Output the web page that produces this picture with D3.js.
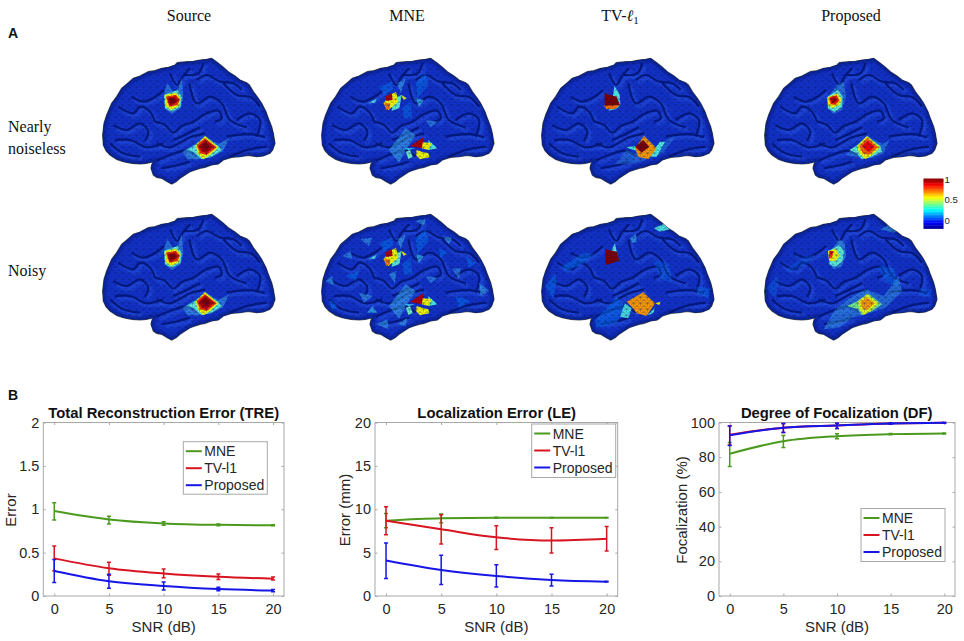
<!DOCTYPE html>
<html>
<head>
<meta charset="utf-8">
<script src="https://cdn.jsdelivr.net/npm/d3@7"></script>
<style>
  html, body { margin: 0; background: #fff; }
  svg { display: block; }
  text { font-family: "Liberation Sans", Arial, sans-serif; fill: #262626; }
  .serif { font-family: "Liberation Serif", "Times New Roman", serif; fill: #111; }
</style>
</head>
<body>
<svg id="fig" width="964" height="641"></svg>
<script>
// ---- line chart values ----
const snr = [0, 5, 10, 15, 20];
const seriesNames = ['MNE', 'TV-l1', 'Proposed'];
const seriesColors = ['#4b9a1e', '#d81420', '#1616e6'];

const treTicks = [0, 0.5, 1, 1.5, 2];
const treMne = [0.98, 0.883, 0.837, 0.82, 0.815];
const treMneErr = [[0.875, 1.075], [0.83, 0.92], [0.815, 0.855], [0.81, 0.83], [0.81, 0.82]];
const treTv = [0.434, 0.32, 0.26, 0.222, 0.2];
const treTvErr = [[0.29, 0.575], [0.24, 0.39], [0.21, 0.31], [0.19, 0.255], [0.185, 0.22]];
const treProp = [0.288, 0.17, 0.115, 0.08, 0.062];
const trePropErr = [[0.155, 0.42], [0.09, 0.25], [0.07, 0.16], [0.06, 0.1], [0.05, 0.075]];

const leTicks = [0, 5, 10, 15, 20];
const leMne = [8.68, 8.95, 9.02, 9.02, 9.02];
const leMneErr = [[7.87, 9.5], [8.45, 9.45], [8.97, 9.07], [8.98, 9.06], [9, 9.04]];
const leTv = [8.68, 7.7, 6.76, 6.4, 6.6];
const leTvErr = [[7.06, 10.3], [6.0, 9.37], [5.37, 8.1], [4.95, 7.87], [5.2, 8.0]];
const leProp = [4.1, 3.0, 2.3, 1.84, 1.65];
const lePropErr = [[2.03, 6.1], [1.34, 4.7], [1.04, 3.6], [1.15, 2.5], [1.6, 1.7]];

const dfTicks = [0, 20, 40, 60, 80, 100];
const dfMne = [82, 89.2, 92.1, 93.3, 93.7];
const dfMneErr = [[74.7, 88.5], [85.6, 92.5], [90.6, 93.5], [92.9, 93.7], [93.4, 94]];
const dfTv = [93, 97, 98.3, 99.4, 99.8];
const dfTvErr = [[87, 98], [94.3, 99.4], [96.6, 99.6], [99, 99.8], [99.6, 100]];
const dfProp = [92.7, 97, 98.3, 99.4, 99.8];
const dfPropErr = [[86.8, 98], [94.3, 99.4], [96.6, 99.6], [99, 99.8], [99.6, 100]];

// ---- brain surface, traced in a 660x510 frame ----
const brainOutline = [[38,285],[42,250],[50,225],[65,190],[80,170],[95,145],[115,128],[130,115],[150,108],[175,95],[195,92],[215,85],[235,82],[255,75],[262,68],[290,65],[310,64],[330,60],[350,58],[365,55],[375,62],[385,70],[400,82],[415,95],[435,108],[450,120],[470,128],[478,135],[490,155],[505,175],[515,190],[528,215],[535,235],[545,260],[550,280],[555,310],[548,330],[540,340],[520,348],[500,350],[475,346],[450,350],[425,352],[400,360],[385,372],[365,375],[345,382],[330,385],[315,390],[300,395],[285,405],[270,415],[258,425],[245,432],[232,425],[215,415],[200,412],[190,405],[183,385],[186,372],[190,365],[170,370],[150,372],[125,370],[100,365],[80,358],[60,345],[48,332],[40,315]];
const sulci = [
  [[195,245],[225,255],[250,278],[275,258],[310,245],[345,222],[385,212],[395,235],[375,245]],
  [[200,310],[240,322],[275,305],[300,292],[345,280]],
  [[320,120],[350,105],[390,125],[430,130],[455,150]],
  [[298,130],[320,190],[360,170],[395,190],[420,240],[470,262]],
  [[125,170],[160,185],[200,168],[222,150]],
  [[70,255],[110,270],[150,250],[175,275],[165,302]],
  [[75,300],[120,300],[170,322],[220,310]],
  [[200,362],[240,345],[290,332],[320,350]],
  [[420,350],[470,330],[530,320]],
  [[440,240],[480,220],[510,240],[500,290]],
  [[400,130],[440,165],[482,172],[510,200]],
  [[240,100],[262,135],[278,110],[300,85]],
  [[85,200],[130,220],[150,200],[180,215],[195,245]],
  [[330,262],[290,282],[250,300]],
  [[410,290],[480,282],[525,292]],
  [[60,310],[100,340],[150,350]],
  [[340,70],[325,100],[285,105]],
  [[215,385],[265,375],[300,365]]
];

// activation patches: v is the colormap value, o the opacity
const srcTop = [
  { v: 0.3, o: 0.45, pts: [[232,128],[252,160],[262,152],[275,114],[280,170],[272,205],[245,222],[224,205],[222,160]] },
  { v: 0.42, o: 1, pts: [[222,165],[262,150],[275,170],[272,200],[245,215],[225,205]] },
  { v: 0.62, o: 1, pts: [[224,165],[258,158],[272,175],[268,198],[243,210],[226,198]] },
  { v: 0.83, o: 1, pts: [[228,170],[258,164],[270,180],[262,195],[238,200]] },
  { v: 0.95, o: 1, pts: [[232,173],[256,170],[265,182],[252,193],[238,195]] },
  { v: 1, o: 1, pts: [[238,176],[253,174],[258,182],[249,190],[240,190]] }
];
const srcBottom = [
  { v: 0.3, o: 0.5, pts: [[278,335],[320,308],[345,288],[385,312],[418,295],[398,335],[362,352],[330,358],[292,358]] },
  { v: 0.42, o: 1, pts: [[290,330],[320,312],[345,292],[385,318],[395,330],[365,350],[335,358],[310,335]] },
  { v: 0.62, o: 1, pts: [[318,315],[345,288],[385,322],[360,345],[340,358],[322,340]] },
  { v: 0.83, o: 1, pts: [[320,315],[345,295],[380,322],[350,345],[330,340]] },
  { v: 0.95, o: 1, pts: [[326,318],[345,300],[372,320],[350,338],[335,335]] },
  { v: 1, o: 1, pts: [[333,318],[347,306],[362,320],[348,332]] }
];
const propTop = [
  { v: 0.3, o: 0.4, pts: [[255,135],[275,125],[282,170],[270,210],[245,222],[226,205],[232,165]] },
  { v: 0.42, o: 1, pts: [[226,170],[258,150],[272,170],[270,200],[248,216],[228,205]] },
  { v: 0.62, o: 1, pts: [[226,172],[256,160],[268,178],[264,195],[240,205],[228,195]] },
  { v: 0.85, o: 1, pts: [[232,172],[254,166],[262,182],[250,194],[236,193]] },
  { v: 0.97, o: 1, pts: [[236,174],[250,172],[254,184],[240,190]] }
];
const propBottom = [
  { v: 0.3, o: 0.4, pts: [[282,345],[310,318],[345,288],[392,312],[412,300],[395,340],[360,355],[320,352]] },
  { v: 0.42, o: 1, pts: [[292,330],[318,315],[345,290],[385,318],[390,335],[355,352],[330,358],[312,338]] },
  { v: 0.62, o: 1, pts: [[315,318],[345,288],[385,322],[360,345],[340,358],[322,340]] },
  { v: 0.78, o: 1, pts: [[322,318],[346,294],[378,322],[350,345],[332,340]] },
  { v: 0.88, o: 1, pts: [[330,318],[347,302],[368,320],[350,336]] }
];
const propTopNoisy = [
  { v: 0.3, o: 0.5, pts: [[262,130],[278,140],[282,180],[268,212],[245,220],[230,200],[240,160]] },
  { v: 0.42, o: 1, pts: [[228,165],[262,148],[276,165],[272,195],[250,212],[232,205]] },
  { v: 0.62, o: 1, pts: [[228,165],[252,158],[262,180],[250,195],[232,195]] },
  { v: 0.82, o: 1, pts: [[232,165],[245,165],[240,185],[230,188]] },
  { v: 0.97, o: 1, pts: [[234,165],[244,168],[236,178]] }
];
const propBottomNoisy = [
  { v: 0.3, o: 0.4, pts: [[215,400],[250,340],[290,310],[340,280],[395,300],[440,240],[450,285],[400,335],[355,350],[300,365],[260,395]] },
  { v: 0.5, o: 0.9, pts: [[285,330],[318,315],[348,292],[390,325],[360,345],[330,358],[318,340]] },
  { v: 0.6, o: 1, pts: [[318,315],[345,295],[380,322],[355,345],[335,358],[322,340]] },
  { v: 0.72, o: 1, pts: [[325,318],[345,304],[368,322],[345,342],[332,338]] }
];
const tvTop = [
  { v: 0.4, o: 1, pts: [[256,138],[272,162],[274,195],[262,207],[238,212],[248,200]] },
  { v: 0.76, o: 1, pts: [[224,195],[272,195],[258,207],[232,208]] },
  { v: 1, o: 1, pts: [[226,160],[263,170],[273,195],[228,197]] }
];
const tvBottom = [
  { v: 0.3, o: 0.3, pts: [[258,372],[293,330],[328,345],[368,355],[413,300],[438,290],[403,340],[323,370]] },
  { v: 0.4, o: 1, pts: [[358,350],[393,305],[408,305],[383,350]] },
  { v: 0.4, o: 1, pts: [[290,322],[320,318],[330,335]] },
  { v: 0.72, o: 1, pts: [[318,325],[345,288],[383,325],[358,358],[328,350]] },
  { v: 1, o: 1, pts: [[318,320],[343,300],[361,320],[338,338]] }
];
const tvTopNoisy = [
  { v: 0.4, o: 1, pts: [[258,142],[268,192],[248,162]] },
  { v: 1, o: 1, pts: [[228,160],[263,167],[271,194],[231,207]] }
];
const tvBottomNoisy = [
  { v: 0.4, o: 0.9, pts: [[273,362],[288,322],[308,337],[298,367]] },
  { v: 0.72, o: 1, pts: [[293,317],[343,289],[378,322],[353,360],[323,352],[308,332]] },
  { v: 0.62, o: 1, pts: [[378,322],[395,317],[391,327]] },
  { v: 0.4, o: 1, pts: [[353,360],[378,335],[373,350]] }
];
const tvNoise = [
  { v: 0.4, o: 0.95, pts: [[375,97],[403,84],[433,97],[393,107]] },
  { v: 0.3, o: 0.6, pts: [[303,127],[321,114],[323,137],[311,142]] },
  { v: 0.25, o: 0.45, pts: [[98,212],[163,172],[193,172],[173,197],[108,227]] },
  { v: 0.25, o: 0.45, pts: [[48,272],[78,232],[83,257],[73,307]] },
  { v: 0.25, o: 0.45, pts: [[198,372],[263,302],[288,332],[263,382],[203,397]] },
  { v: 0.25, o: 0.4, pts: [[503,272],[543,277],[538,307],[503,292]] },
  { v: 0.25, o: 0.3, pts: [[370,190],[420,205],[430,260],[395,250]] }
];
const propNoise = [
  { v: 0.3, o: 0.5, pts: [[385,100],[420,82],[460,90],[425,110]] },
  { v: 0.25, o: 0.25, pts: [[100,220],[165,178],[190,178],[170,200],[110,232]] },
  { v: 0.25, o: 0.3, pts: [[45,275],[75,238],[80,258],[70,310]] },
  { v: 0.25, o: 0.25, pts: [[500,275],[540,280],[535,305],[500,295]] },
  { v: 0.25, o: 0.35, pts: [[380,210],[425,215],[440,270],[400,260]] }
];
const mneTop = [
  { v: 0.25, o: 0.5, pts: [[210,140],[250,125],[252,150],[225,165]] },
  { v: 0.3, o: 0.5, pts: [[265,130],[290,115],[275,160]] },
  { v: 0.4, o: 0.9, pts: [[178,190],[203,175],[198,188]] },
  { v: 0.42, o: 1, pts: [[253,175],[278,165],[271,205],[248,212]] },
  { v: 0.62, o: 1, pts: [[243,165],[261,155],[268,185],[238,210],[223,190]] },
  { v: 0.62, o: 1, pts: [[278,165],[293,175],[283,180]] },
  { v: 0.95, o: 1, pts: [[228,170],[248,160],[251,180],[231,183]] },
  { v: 0.76, o: 1, pts: [[225,190],[243,190],[243,205],[231,210]] }
];
const mneBottom = [
  { v: 0.3, o: 0.5, pts: [[240,330],[290,265],[320,285],[290,330],[270,370]] },
  { v: 0.4, o: 1, pts: [[358,300],[385,325],[358,330]] },
  { v: 0.45, o: 1, pts: [[291,335],[303,330],[311,350],[298,358]] },
  { v: 0.38, o: 1, pts: [[288,325],[318,325],[298,330]] },
  { v: 0.62, o: 1, pts: [[333,305],[368,310],[358,330],[338,325]] },
  { v: 0.62, o: 1, pts: [[323,330],[338,335],[358,340],[361,352],[333,358],[321,345]] },
  { v: 0.95, o: 1, pts: [[303,318],[345,290],[338,325]] }
];
const mneFaint = [
  { v: 0.25, o: 0.45, pts: [[320,125],[350,100],[358,135],[325,175]] },
  { v: 0.35, o: 0.6, pts: [[320,175],[345,180],[330,200]] },
  { v: 0.3, o: 0.5, pts: [[350,240],[385,245],[365,262]] },
  { v: 0.25, o: 0.45, pts: [[280,205],[305,185],[310,235],[285,235]] }
];
const mneNoise = [
  { v: 0.25, o: 0.55, pts: [[60,310],[85,330],[70,345]] },
  { v: 0.3, o: 0.5, pts: [[100,180],[125,165],[130,190]] },
  { v: 0.3, o: 0.5, pts: [[155,130],[190,125],[180,150]] },
  { v: 0.3, o: 0.55, pts: [[320,75],[350,68],[345,90]] },
  { v: 0.3, o: 0.5, pts: [[400,120],[430,125],[420,145]] },
  { v: 0.25, o: 0.5, pts: [[470,180],[500,200],[480,215]] },
  { v: 0.3, o: 0.55, pts: [[510,260],[540,285],[515,300]] },
  { v: 0.25, o: 0.5, pts: [[440,300],[485,315],[450,335]] },
  { v: 0.3, o: 0.5, pts: [[200,385],[235,370],[240,400]] },
  { v: 0.3, o: 0.5, pts: [[265,385],[295,365],[290,390]] },
  { v: 0.25, o: 0.5, pts: [[110,240],[150,225],[140,255]] },
  { v: 0.3, o: 0.5, pts: [[150,290],[190,300],[165,320]] },
  { v: 0.3, o: 0.55, pts: [[240,235],[262,225],[258,262]] },
  { v: 0.35, o: 0.6, pts: [[175,350],[190,330],[205,350]] },
  { v: 0.3, o: 0.5, pts: [[50,255],[70,240],[75,270]] },
  { v: 0.3, o: 0.45, pts: [[430,220],[455,215],[450,250]] },
  { v: 0.25, o: 0.5, pts: [[390,155],[415,170],[395,185]] }
];

const columnTitles = ['Source', 'MNE', 'TV-', 'Proposed'];
const columnCentres = [189, 407, 620, 851];
const colorbarTicks = [0, 0.5, 1];

// each brain: frame origin on the page plus the patches painted on it
const brainOriginsX = [90, 309, 529, 752];
const brainOriginsY = [40, 196];
const brainPatches = [
  [srcTop.concat(srcBottom), mneFaint.concat(mneTop, mneBottom), tvTop.concat(tvBottom), propTop.concat(propBottom)],
  [srcTop.concat(srcBottom), mneFaint.concat(mneNoise, mneTop, mneBottom), tvNoise.concat(tvTopNoisy, tvBottomNoisy), propNoise.concat(propTopNoisy, propBottomNoisy)]
];

const svg = d3.select('#fig');

// matlab jet
const jet = d3.scaleLinear()
  .domain([0, 0.125, 0.375, 0.625, 0.875, 1])
  .range(['#00008f', '#0000ff', '#00ffff', '#ffff00', '#ff0000', '#800000']);
// what the surface lighting does to the map: washed a little towards white at cyan
const shade = v => d3.interpolateRgb(jet(v), '#b8e0e8')(v > 0.28 && v < 0.5 ? 0.35 : 0);

const defs = svg.append('defs');
defs.append('filter').attr('id', 'blurS').append('feGaussianBlur').attr('stdDeviation', 0.7);
defs.append('filter').attr('id', 'blurM').append('feGaussianBlur').attr('stdDeviation', 1.4);
defs.append('filter').attr('id', 'blurT').append('feGaussianBlur').attr('stdDeviation', 0.35);

const mesh = defs.append('pattern').attr('id', 'mesh')
  .attr('patternUnits', 'userSpaceOnUse').attr('width', 7).attr('height', 6);
mesh.append('path').attr('d', 'M0,0L7,0M0,3L7,3M0,0L3.5,3L7,0M0,6L3.5,3L7,6M3.5,3L3.5,6')
  .attr('fill', 'none').attr('stroke', '#05105a').attr('stroke-width', 0.45).attr('stroke-opacity', 0.55);

const sulcusLine = d3.line().curve(d3.curveCatmullRom);

function drawBrain(ox, oy, patches, id) {
  const px = d3.scaleLinear().domain([0, 660]).range([ox, ox + 220]);
  const py = d3.scaleLinear().domain([0, 510]).range([oy, oy + 170]);
  const scaled = pts => pts.map(p => [px(p[0]), py(p[1])]);
  const outlinePath = d3.line().curve(d3.curveLinearClosed)(scaled(brainOutline));

  defs.append('clipPath').attr('id', id).append('path').attr('d', outlinePath);

  const g = svg.append('g');
  g.append('path').attr('d', outlinePath).attr('fill', '#0a1f9a')
    .attr('stroke', '#222', 'stroke-width').attr('stroke-width', 1.2).attr('stroke-opacity', 0.75);

  const inner = g.append('g').attr('clip-path', `url(#${id})`);
  inner.append('path').attr('d', outlinePath).attr('fill', '#1233cc');

  // gyri catch the light just beside each fold
  sulci.forEach(s => {
    inner.append('path').attr('d', sulcusLine(scaled(s)))
      .attr('transform', 'translate(2.4,2.6)')
      .attr('fill', 'none').attr('stroke', '#2659f0').attr('stroke-width', 3.6)
      .attr('stroke-opacity', 0.7).attr('filter', 'url(#blurM)');
  });
  sulci.forEach(s => {
    inner.append('path').attr('d', sulcusLine(scaled(s)))
      .attr('fill', 'none').attr('stroke', '#071478').attr('stroke-width', 2.2)
      .attr('stroke-opacity', 0.9).attr('filter', 'url(#blurS)');
  });

  // darker rim along the lower edge
  inner.append('path').attr('d', outlinePath).attr('fill', 'none')
    .attr('stroke', '#06105e').attr('stroke-width', 5).attr('stroke-opacity', 0.55)
    .attr('filter', 'url(#blurM)');

  patches.forEach(p => {
    inner.append('path').attr('d', d3.line().curve(d3.curveLinearClosed)(scaled(p.pts)))
      .attr('fill', shade(p.v)).attr('fill-opacity', p.o).attr('filter', 'url(#blurT)');
  });

  inner.append('path').attr('d', outlinePath).attr('fill', 'url(#mesh)');
}

brainPatches.forEach((row, r) => row.forEach((patches, c) => {
  drawBrain(brainOriginsX[c], brainOriginsY[r], patches, `brain${r}${c}`);
}));

// column and row headings
columnTitles.forEach((t, i) => {
  const txt = svg.append('text').attr('class', 'serif').attr('x', columnCentres[i]).attr('y', 21)
    .attr('text-anchor', 'middle').attr('font-size', 16).text(t);
  if (t === 'TV-') {
    txt.append('tspan').attr('font-style', 'italic').text('\u2113');
    txt.append('tspan').attr('dy', 3).attr('font-size', 11).text('1');
  }
});
[['Nearly', 132], ['noiseless', 154], ['Noisy', 276]].forEach(d => {
  svg.append('text').attr('class', 'serif').attr('x', 8).attr('y', d[1]).attr('font-size', 16).text(d[0]);
});
[['A', 38], ['B', 400]].forEach(d => {
  svg.append('text').attr('x', 8).attr('y', d[1]).attr('font-size', 14)
    .attr('font-weight', 'bold').attr('fill', '#111').style('fill', '#111').text(d[0]);
});

// colorbar
const cbY = d3.scaleLinear().domain([0, 1]).range([228.5, 178.5]);
d3.range(32).forEach(i => {
  svg.append('rect').attr('x', 923.5).attr('width', 20)
    .attr('y', cbY((i + 1) / 32)).attr('height', cbY(i / 32) - cbY((i + 1) / 32) + 0.4)
    .attr('fill', jet((i + 0.5) / 32));
});
const cbLabels = d3.scaleLinear().domain([0, 1]).range([220.5, 179.5]);
colorbarTicks.forEach(t => {
  svg.append('text').attr('x', 944.5).attr('y', cbLabels(t)).attr('dy', '0.35em')
    .attr('font-size', 9.5).text(d3.format('~g')(t));
});

// ---- line charts ----
function drawChart(cfg) {
  const x = d3.scaleLinear().domain([-1, 21]).range([cfg.left, cfg.right]);
  const y = d3.scaleLinear().domain(cfg.yDomain).range([596, 422.5]);
  const g = svg.append('g');

  const box = '#a8a8a8';
  g.append('rect').attr('x', cfg.left).attr('y', 422.5)
    .attr('width', cfg.right - cfg.left).attr('height', 173.5)
    .attr('fill', 'none').attr('stroke', box).attr('stroke-width', 1);

  const xAxis = g.append('g').attr('transform', 'translate(0,596)')
    .call(d3.axisBottom(x).tickValues(snr).tickSize(-2.5).tickPadding(8).tickFormat(d3.format('d')));
  const yAxis = g.append('g').attr('transform', `translate(${cfg.left},0)`)
    .call(d3.axisLeft(y).tickValues(cfg.ticks).tickSize(-2.5).tickPadding(4).tickFormat(d3.format('~g')));
  g.append('g').attr('transform', 'translate(0,422.5)')
    .call(d3.axisTop(x).tickValues(snr).tickSize(-2.5).tickFormat(''));
  g.append('g').attr('transform', `translate(${cfg.right},0)`)
    .call(d3.axisRight(y).tickValues(cfg.ticks).tickSize(-2.5).tickFormat(''));

  g.selectAll('.domain').remove();
  g.selectAll('.tick line').attr('stroke', box);
  g.selectAll('.tick text').attr('font-size', 14.5).style('font-family', '"Liberation Sans", Arial, sans-serif').attr('fill', '#262626');

  g.append('text').attr('x', cfg.titleX).attr('y', 418).attr('text-anchor', 'middle')
    .attr('font-size', 14.8).attr('font-weight', 'bold').style('fill', '#111').text(cfg.title);
  g.append('text').attr('x', (x(0) + x(20)) / 2).attr('y', 632).attr('text-anchor', 'middle')
    .attr('font-size', 15).text('SNR (dB)');
  g.append('text').attr('transform', `translate(${cfg.labelX},${cfg.labelY}) rotate(-90)`)
    .attr('text-anchor', 'middle').attr('font-size', 15).text(cfg.yLabel);

  const line = d3.line().curve(d3.curveMonotoneX).x((d, i) => x(snr[i])).y(d => y(d));
  cfg.series.forEach((vals, s) => {
    g.append('path').attr('d', line(vals)).attr('fill', 'none')
      .attr('stroke', seriesColors[s]).attr('stroke-width', 2);
    cfg.errors[s].forEach((e, i) => {
      const cx = x(snr[i]);
      g.append('path')
        .attr('d', `M${cx - 2},${y(e[1])}H${cx + 2}M${cx},${y(e[1])}V${y(e[0])}M${cx - 2},${y(e[0])}H${cx + 2}`)
        .attr('fill', 'none').attr('stroke', seriesColors[s]).attr('stroke-width', 1.5);
    });
  });

  // legend
  const lg = g.append('g').attr('transform', `translate(${cfg.legend[0]},${cfg.legend[1]})`);
  lg.append('rect').attr('width', 84).attr('height', cfg.legend[2]).attr('fill', '#fff')
    .attr('stroke', box).attr('stroke-width', 1);
  seriesNames.forEach((n, i) => {
    const ly = 9.5 + i * 17;
    lg.append('line').attr('x1', 2.5).attr('x2', 18.5).attr('y1', ly).attr('y2', ly)
      .attr('stroke', seriesColors[i]).attr('stroke-width', 2);
    lg.append('text').attr('x', 21).attr('y', ly).attr('dy', '0.36em').attr('font-size', 14)
      .text(n === 'TV-l1' ? 'TV-l1' : n);
  });
}

drawChart({
  left: 43.3, right: 284, yDomain: [0, 2], ticks: treTicks,
  title: 'Total Reconstruction Error (TRE)', titleX: 163.7,
  yLabel: 'Error', labelX: 16, labelY: 510,
  series: [treMne, treTv, treProp], errors: [treMneErr, treTvErr, trePropErr],
  legend: [183.3, 441.7, 52.5]
});
drawChart({
  left: 375, right: 617.7, yDomain: [0, 20], ticks: leTicks,
  title: 'Localization Error (LE)', titleX: 496.7,
  yLabel: 'Error (mm)', labelX: 350, labelY: 510,
  series: [leMne, leTv, leProp], errors: [leMneErr, leTvErr, lePropErr],
  legend: [531.7, 424, 53.5]
});
drawChart({
  left: 719, right: 955, yDomain: [0, 100], ticks: dfTicks,
  title: 'Degree of Focalization (DF)', titleX: 836.7,
  yLabel: 'Focalization (%)', labelX: 687, labelY: 510,
  series: [dfMne, dfTv, dfProp], errors: [dfMneErr, dfTvErr, dfPropErr],
  legend: [861, 508.5, 53]
});
</script>
</body>
</html>
